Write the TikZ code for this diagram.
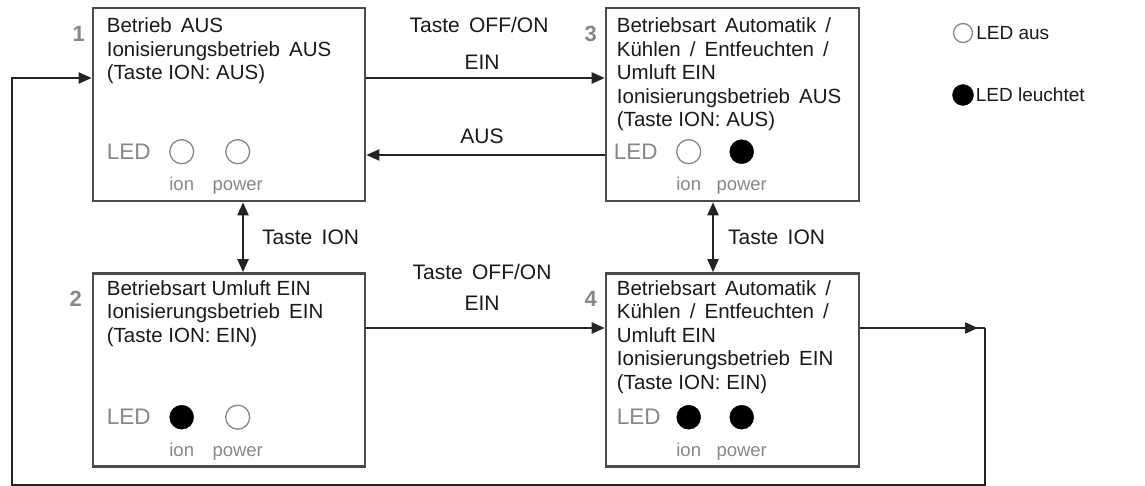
\documentclass[tikz,border=0pt]{standalone}
\usepackage{fontspec}
\setmainfont{Liberation Sans}
\usetikzlibrary{positioning, calc, arrows.meta}
\definecolor{boxgray}{RGB}{75,75,75}
\definecolor{linedark}{RGB}{35,35,35}
\definecolor{ledgray}{RGB}{135,135,135}
\definecolor{textdark}{RGB}{25,25,25}

\begin{document}
\begin{tikzpicture}[
        x=1pt, y=-1pt,
        statebox/.style={rectangle, draw=boxgray, line width=2.6pt, minimum width=272pt, minimum height=193pt, inner sep=0pt},
        boxtext/.style={anchor=north west, inner sep=0pt, align=left, text=textdark, font=\fontsize{20.5}{23.5}\selectfont},
        edgetext/.style={inner sep=0pt, text=textdark, font=\fontsize{21}{24}\selectfont},
        ledword/.style={anchor=west, inner sep=0pt, text=ledgray, font=\fontsize{22.5}{24}\selectfont},
        ledname/.style={anchor=base, inner sep=0pt, text=ledgray, font=\fontsize{18.5}{20}\selectfont},
        numtext/.style={inner sep=0pt, text=ledgray, font=\bfseries\fontsize{22}{24}\selectfont},
        ledoff/.style={circle, draw=ledgray, line width=1.3pt, fill=white, minimum size=24pt, inner sep=0pt},
        ledon/.style={circle, draw=black, fill=black, minimum size=24pt, inner sep=0pt},
        legtext/.style={anchor=west, inner sep=0pt, text=textdark, font=\fontsize{19}{22}\selectfont},
        arr/.style={-{Triangle[length=13pt, width=11pt]}, line width=1.9pt, draw=linedark},
        dblarr/.style={{Triangle[length=13pt, width=11pt]}-{Triangle[length=13pt, width=11pt]}, line width=1.9pt, draw=linedark},
        plain/.style={line width=1.9pt, draw=linedark}
    ]
        \useasboundingbox (0,0) rectangle (1145,486);

        % state boxes
        \node[statebox] (S1) at (229,104.5) {};
        \node[statebox, minimum width=253pt] (S3) at (732.5,104.5) {};
        \node[statebox] (S2) at (229,370) {};
        \node[statebox, minimum width=253pt] (S4) at (732.5,370) {};

        % box texts
        \node[boxtext] (T1) at ($(S1.north west)+(15,11)$) {Betrieb\, AUS\\Ionisierungsbetrieb\, AUS\\(Taste ION: AUS)};
        \node[boxtext] (T3) at ($(S3.north west)+(12,11)$) {Betriebsart\, Automatik\, /\\Kühlen\, /\, Entfeuchten\, /\\Umluft EIN\\Ionisierungsbetrieb\, AUS\\(Taste ION: AUS)};
        \node[boxtext] (T2) at ($(S2.north west)+(15,8)$) {Betriebsart Umluft EIN\\Ionisierungsbetrieb\, EIN\\(Taste ION: EIN)};
        \node[boxtext] (T4) at ($(S4.north west)+(12,8)$) {Betriebsart\, Automatik\, /\\Kühlen\, /\, Entfeuchten\, /\\Umluft EIN\\Ionisierungsbetrieb\, EIN\\(Taste ION: EIN)};

        % numbers
        \node[numtext] (N1) at ($(S1.north west)+(-13,27)$) {1};
        \node[numtext] (N3) at ($(S3.north west)+(-14,27)$) {3};
        \node[numtext] (N2) at ($(S2.north west)+(-16,27)$) {2};
        \node[numtext] (N4) at ($(S4.north west)+(-14,27)$) {4};

        % LED rows
        \node[ledword] (L1) at ($(S1.north west)+(15,145)$) {LED};
        \node[ledoff] (I1) at ($(S1.north west)+(90,145)$) {};
        \node[ledoff] (P1) at ($(S1.north west)+(146,145)$) {};
        \node[ledname] at ($(I1)+(0,39)$) {ion};
        \node[ledname] at ($(P1)+(0,39)$) {power};

        \node[ledword] (L3) at ($(S3.north west)+(9,145)$) {LED};
        \node[ledoff] (I3) at ($(S3.north west)+(84,145)$) {};
        \node[ledon] (P3) at ($(S3.north west)+(137,145)$) {};
        \node[ledname] at ($(I3)+(0,39)$) {ion};
        \node[ledname] at ($(P3)+(0,39)$) {power};

        \node[ledword] (L2) at ($(S2.north west)+(15,145)$) {LED};
        \node[ledon] (I2) at ($(S2.north west)+(90,145)$) {};
        \node[ledoff] (P2) at ($(S2.north west)+(146,145)$) {};
        \node[ledname] at ($(I2)+(0,39)$) {ion};
        \node[ledname] at ($(P2)+(0,39)$) {power};

        \node[ledword] (L4) at ($(S4.north west)+(12,145)$) {LED};
        \node[ledon] (I4) at ($(S4.north west)+(84,145)$) {};
        \node[ledon] (P4) at ($(S4.north west)+(137,145)$) {};
        \node[ledname] at ($(I4)+(0,39)$) {ion};
        \node[ledname] at ($(P4)+(0,39)$) {power};

        % legend
        \node[ledoff, minimum size=19pt] (LA) at (963,33) {};
        \node[legtext, right=3pt of LA] (LAT) {LED aus};
        \node[ledon, minimum size=21pt] (LB) at (963,95) {};
        \node[legtext, right=2pt of LB] (LBT) {LED leuchtet};

        % edge labels
        \node[edgetext] (E1) at (479,25) {Taste\, OFF/ON};
        \node[edgetext] (E2) at (482,62) {EIN};
        \node[edgetext] (E3) at (482,136) {AUS};
        \node[edgetext] (E4) at (482,272) {Taste\, OFF/ON};
        \node[edgetext] (E5) at (482,303) {EIN};
        \node[edgetext, anchor=west] (E6) at (262,237) {Taste\, ION};
        \node[edgetext, anchor=west] (E7) at (728,237) {Taste\, ION};

        % helper coordinates
        \coordinate (r1) at (0,78);
        \coordinate (r2) at (0,155);
        \coordinate (r3) at (0,328);
        \coordinate (cl) at (243,0);
        \coordinate (cr) at (713,0);
        \coordinate (fb1) at (985,328);
        \coordinate (fb2) at (12,485);

        % connectors
        \draw[arr] (S1.east |- r1) -- (S3.west |- r1);
        \draw[arr] (S3.west |- r2) -- (S1.east |- r2);
        \draw[arr] (S2.east |- r3) -- (S4.west |- r3);
        \draw[dblarr] (S1.south -| cl) -- (S2.north -| cl);
        \draw[dblarr] (S3.south -| cr) -- (S4.north -| cr);
        \draw[plain] (S4.east |- fb1) -- (fb1);
        \draw[arr] (S4.east |- fb1) -- ($(fb1)+(-7,0)$);
        \draw[arr] (fb1) |- (fb2) |- (S1.west |- r1);
    \end{tikzpicture}
\end{document}
